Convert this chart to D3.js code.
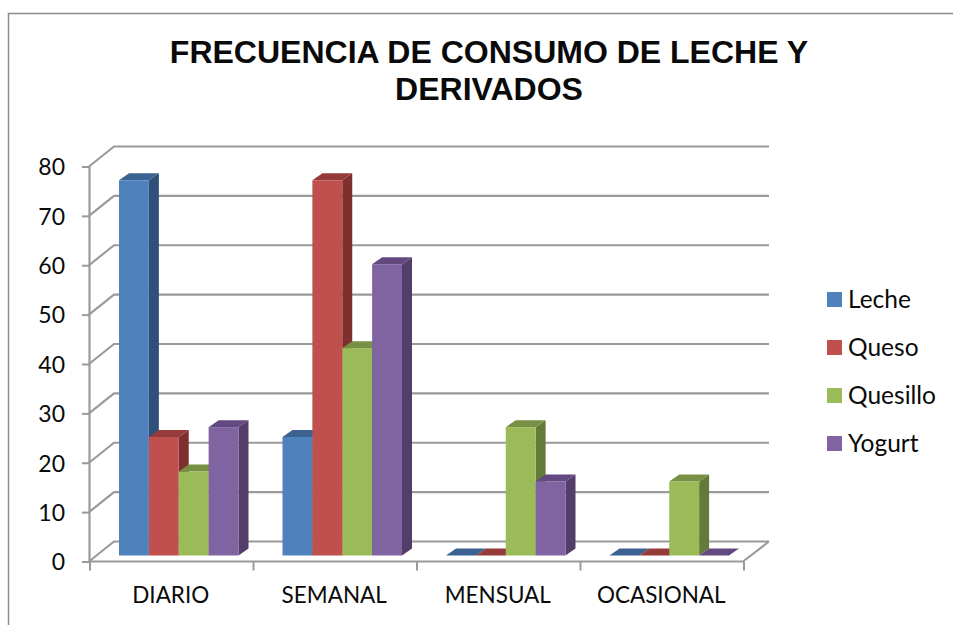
<!DOCTYPE html>
<html>
<head>
<meta charset="utf-8">
<script src="https://cdn.jsdelivr.net/npm/d3@7"></script>
<style>
  html, body { margin: 0; padding: 0; background: #fff; }
  svg { display: block; }
  text { fill: #0a0a0a; }
  .tick text { font-family: Lato, sans-serif; }
</style>
</head>
<body>
<svg></svg>
<script>
const categories = ["DIARIO", "SEMANAL", "MENSUAL", "OCASIONAL"]
const seriesNames = ["Leche", "Queso", "Quesillo", "Yogurt"]
const leche = [76, 24, 0, 0]
const queso = [24, 76, 0, 0]
const quesillo = [17, 42, 26, 15]
const yogurt = [26, 59, 15, 0]
const yTicks = [0, 10, 20, 30, 40, 50, 60, 70, 80]
const titleLines = ["FRECUENCIA DE CONSUMO DE LECHE Y", "DERIVADOS"]

const seriesValues = [leche, queso, quesillo, yogurt]
const colors = [
  { front: "#4f81bd", top: "#3b6291", side: "#2f5179" },
  { front: "#c0504d", top: "#953b39", side: "#7f302e" },
  { front: "#9bbb59", top: "#779044", side: "#647a39" },
  { front: "#8064a2", top: "#62497f", side: "#533e6b" },
]

const width = 953
const height = 625
const plot = { left: 89, right: 743, top: 166.5, bottom: 561.5 }
const depth = { x: 25, y: -20 } // floor depth of the fake 3d box
const barOffset = { x: 7, y: -6 } // bars sit a bit back from the front edge
const barDepth = { x: 10, y: -7 }

const svg = d3.select("svg").attr("width", width).attr("height", height)

// chart frame, only top and left show up in the crop
svg.append("path")
  .attr("d", `M8.5,${height} V13.5 H${width}`)
  .attr("fill", "none")
  .attr("stroke", "#8c8c8c")
  .attr("stroke-width", 1.5)

const title = svg.append("text")
  .attr("x", 489)
  .attr("y", 63)
  .attr("text-anchor", "middle")
  .style("font", "bold 32px 'Liberation Sans', Arial, sans-serif")
title.selectAll("tspan")
  .data(titleLines)
  .join("tspan")
  .attr("x", 489)
  .attr("dy", (d, i) => (i ? 37 : 0))
  .text((d) => d)

const xScale = d3.scaleBand()
  .domain(categories)
  .range([plot.left, plot.right])

const yScale = d3.scaleLinear()
  .domain([0, 80])
  .range([plot.bottom, plot.top])

const innerScale = d3.scaleBand()
  .domain(seriesNames)
  .range([30, 149.5])

const gridColor = "#9a9a9a"

// back wall lines and the diagonals running to the front axis
const grid = svg.append("g")
  .attr("fill", "none")
  .attr("stroke", gridColor)
  .attr("stroke-width", 2.2)
grid.selectAll("path")
  .data(yTicks)
  .join("path")
  .attr("d", (d) => {
    const y = yScale(d)
    return `M${plot.left},${y} L${plot.left + depth.x},${y + depth.y} H${plot.right + depth.x + 1}`
  })

// floor front and right edge
grid.append("path")
  .attr("d", `M${plot.left},${plot.bottom} H${plot.right} L${plot.right + depth.x + 1},${plot.bottom + depth.y}`)

const yAxis = d3.axisLeft(yScale)
  .tickValues(yTicks)
  .tickSize(7)
  .tickPadding(17)
svg.append("g")
  .attr("transform", `translate(${plot.left},0)`)
  .call(yAxis)
  .call((g) => g.select(".domain").attr("stroke", gridColor).attr("stroke-width", 2.2))
  .call((g) => g.selectAll(".tick line").attr("stroke", gridColor).attr("stroke-width", 2))
  .call((g) => g.selectAll(".tick text").style("font-size", "23px").attr("dy", "0.36em"))

const xAxis = d3.axisBottom(xScale)
  .tickSize(9)
  .tickPadding(17)
const xAxisGroup = svg.append("g")
  .attr("transform", `translate(0,${plot.bottom})`)
  .call(xAxis)
xAxisGroup.select(".domain").remove()
xAxisGroup.selectAll(".tick line").remove()
xAxisGroup.selectAll(".tick text").style("font-size", "22.5px")

// separators between categories
xAxisGroup.selectAll(".sep")
  .data([...categories.map((d) => xScale(d)), plot.right])
  .join("line")
  .attr("class", "sep")
  .attr("x1", (d) => d + 1)
  .attr("x2", (d) => d + 1)
  .attr("y1", 0)
  .attr("y2", 9)
  .attr("stroke", gridColor)
  .attr("stroke-width", 2)

// bars, left to right so the next front face covers the previous side
const bars = svg.append("g")
seriesNames.forEach((name, s) => {
  const color = colors[s]
  const g = bars.append("g")
  categories.forEach((cat, c) => {
    const v = seriesValues[s][c]
    const x0 = xScale(cat) + innerScale(name)
    const x1 = x0 + innerScale.bandwidth()
    const yBase = yScale(0) + barOffset.y
    const yTop = yScale(v) + barOffset.y
    const dx = barDepth.x
    const dy = barDepth.y

    g.append("path")
      .attr("d", `M${x1},${yBase} L${x1 + dx},${yBase + dy} V${yTop + dy} L${x1},${yTop} Z`)
      .attr("fill", color.side)
    g.append("path")
      .attr("d", `M${x0},${yTop} L${x0 + dx},${yTop + dy} H${x1 + dx} L${x1},${yTop} Z`)
      .attr("fill", color.top)
    if (v > 0) {
      g.append("rect")
        .attr("x", x0)
        .attr("y", yTop)
        .attr("width", x1 - x0)
        .attr("height", yBase - yTop)
        .attr("fill", color.front)
    }
  })
})

// legend
const legendY = d3.scalePoint()
  .domain(seriesNames)
  .range([292, 436])
const legend = svg.append("g")
  .selectAll("g")
  .data(seriesNames)
  .join("g")
  .attr("transform", (d) => `translate(827,${legendY(d)})`)
legend.append("rect")
  .attr("width", 15)
  .attr("height", 15)
  .attr("fill", (d, i) => colors[i].front)
legend.append("text")
  .attr("x", 21)
  .attr("y", 16)
  .style("font", "24.5px Lato, sans-serif")
  .text((d) => d)
</script>
</body>
</html>
